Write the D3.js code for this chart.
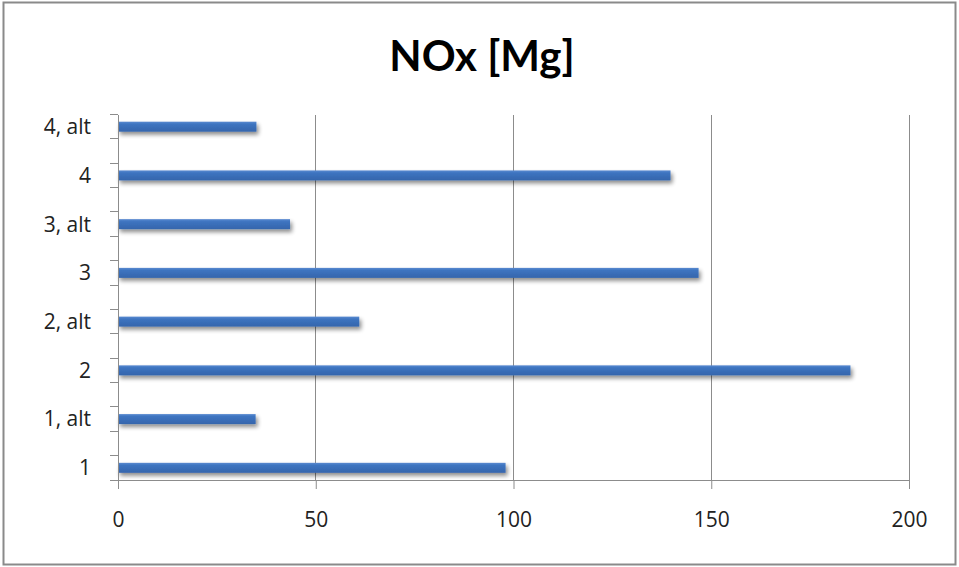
<!DOCTYPE html>
<html>
<head>
<meta charset="utf-8">
<script src="https://cdn.jsdelivr.net/npm/d3@7"></script>
<style>
  html, body { margin: 0; padding: 0; background: #fff; }
  svg { display: block; }
  .tick text { font-family: "Open Sans", Lato, sans-serif; fill: #222; }
</style>
</head>
<body>
<svg id="chart" width="959" height="567"></svg>
<script>
// Category slots, top to bottom; empty strings are unlabeled spacer slots
const categories = ["4, alt", "", "4", "", "3, alt", "", "3", "", "2, alt", "", "2", "", "1, alt", "", "1"];
// NOx emissions per slot (null = spacer, no bar)
const values = [35, null, 139.7, null, 43.5, null, 146.8, null, 61, null, 185.2, null, 34.8, null, 98];
const xTicks = [0, 50, 100, 150, 200];
const title = "NOx [Mg]";

const svg = d3.select("#chart");
const W = 959, H = 567;
const margin = { top: 114.5, right: 50, bottom: 87, left: 118 };

// Outer frame
svg.append("rect")
  .attr("x", 3.5).attr("y", 2.5)
  .attr("width", W - 7).attr("height", H - 5)
  .attr("fill", "#fff").attr("stroke", "#8a8a8a").attr("stroke-width", 2);

// Bar shadow
const defs = svg.append("defs");
const f = defs.append("filter").attr("id", "shadow")
  .attr("x", "-5%").attr("y", "-50%").attr("width", "110%").attr("height", "250%");
f.append("feGaussianBlur").attr("in", "SourceAlpha").attr("stdDeviation", 2).attr("result", "b");
f.append("feOffset").attr("in", "b").attr("dx", 2).attr("dy", 3).attr("result", "o");
f.append("feComponentTransfer").attr("in", "o").attr("result", "s")
  .append("feFuncA").attr("type", "linear").attr("slope", 0.45);
const m = f.append("feMerge");
m.append("feMergeNode").attr("in", "s");
m.append("feMergeNode").attr("in", "SourceGraphic");

const grad = defs.append("linearGradient").attr("id", "barFill")
  .attr("x1", 0).attr("y1", 0).attr("x2", 0).attr("y2", 1);
grad.append("stop").attr("offset", "0%").attr("stop-color", "#5a8ad0");
grad.append("stop").attr("offset", "25%").attr("stop-color", "#3d74c0");
grad.append("stop").attr("offset", "100%").attr("stop-color", "#3565ac");

const x = d3.scaleLinear().domain([0, 200]).range([margin.left, W - margin.right]);
const y = d3.scaleBand().domain(d3.range(categories.length))
  .range([margin.top, H - margin.bottom]).paddingInner(0).paddingOuter(0);

// Vertical gridlines
svg.append("g").selectAll("line").data(xTicks.slice(1)).join("line")
  .attr("x1", d => x(d)).attr("x2", d => x(d))
  .attr("y1", margin.top).attr("y2", H - margin.bottom)
  .attr("stroke", "#8c8c8c").attr("stroke-width", 1).attr("shape-rendering", "crispEdges");

// Bars
const barH = 10;
svg.append("g").selectAll("rect")
  .data(values.map((v, i) => ({ v, i })).filter(d => d.v !== null))
  .join("rect")
  .attr("x", x(0))
  .attr("y", d => y(d.i) + y.bandwidth() / 2 - barH / 2)
  .attr("width", d => x(d.v) - x(0))
  .attr("height", barH)
  .attr("fill", "url(#barFill)")
  .attr("filter", "url(#shadow)");

// X axis
const xAxis = svg.append("g")
  .attr("transform", `translate(0,${H - margin.bottom})`)
  .call(d3.axisBottom(x).tickValues(xTicks).tickSizeInner(9).tickSizeOuter(0).tickPadding(23));
xAxis.selectAll("text").style("font-size", "21px");
xAxis.select(".domain").attr("stroke", "#8c8c8c");
xAxis.selectAll(".tick line").attr("stroke", "#8c8c8c");

// Y axis: ticks on slot boundaries, labels at slot centres
const yAxis = svg.append("g").attr("transform", `translate(${margin.left},0)`);
yAxis.append("line")
  .attr("x1", 0).attr("x2", 0).attr("y1", margin.top).attr("y2", H - margin.bottom)
  .attr("stroke", "#8c8c8c").attr("shape-rendering", "crispEdges");
const bounds = d3.range(categories.length + 1).map(i => margin.top + i * y.step());
yAxis.selectAll(".bt").data(bounds).join("line")
  .attr("x1", -8).attr("x2", 0).attr("y1", d => d).attr("y2", d => d)
  .attr("stroke", "#8c8c8c").attr("shape-rendering", "crispEdges");
yAxis.selectAll(".lbl").data(categories.map((c, i) => ({ c, i })).filter(d => d.c !== ""))
  .join("text")
  .attr("x", -27)
  .attr("y", d => y(d.i) + y.bandwidth() / 2)
  .attr("dy", "0.35em")
  .attr("text-anchor", "end")
  .style("font-family", "'Open Sans', Lato, sans-serif")
  .style("font-size", "21px")
  .attr("fill", "#222")
  .text(d => d.c);

// Title
svg.append("text")
  .attr("x", 482).attr("y", 71)
  .attr("text-anchor", "middle")
  .style("font-family", "Lato, 'Open Sans', sans-serif")
  .style("font-weight", "bold")
  .style("font-size", "42px")
  .attr("fill", "#000")
  .text(title);
</script>
</body>
</html>
